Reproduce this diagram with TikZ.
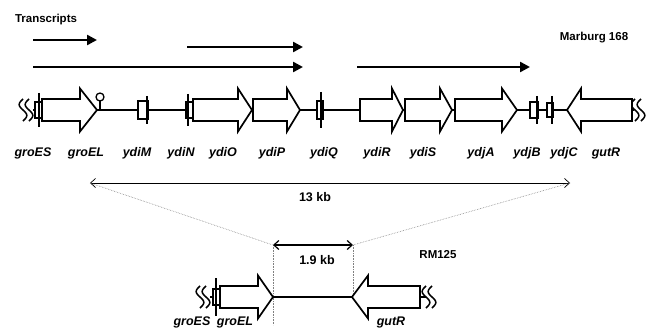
\documentclass[tikz,border=0pt]{standalone}
\usepackage{fontspec}
\setmainfont{Liberation Sans}
\usetikzlibrary{arrows.meta,positioning,calc}

\tikzset{
  gene/.style={line width=1.7pt,fill=white,line join=miter},
  genelabel/.style={font=\fontsize{12.5}{14}\selectfont\bfseries\itshape,inner sep=0pt},
  maplabel/.style={font=\fontsize{11.5}{13}\selectfont\bfseries,inner sep=0pt},
  transcript/.style={line width=2.4pt,-{Triangle[length=10pt,width=10pt]}},
  span/.style={line width=0.7pt,{Straight Barb[length=5pt,width=9pt]}-{Straight Barb[length=5pt,width=9pt]}},
  guide/.style={densely dotted,line width=0.6pt,gray},
}

% 遺伝子の矢印：尾の x, 頭の付け根の x, 先端の x, 中心の y
\newcommand{\gene}[4]{%
  \draw[gene] (#1,#4-11) -- (#2,#4-11) -- (#2,#4-21.5) -- (#3,#4)
    -- (#2,#4+21.5) -- (#2,#4+11) -- (#1,#4+11) -- cycle;}
% 小さい遺伝子：箱の左右 x, 中心 y, 箱の半分の高さ, 縦線の x, 縦線の半分の長さ
\newcommand{\smallgene}[6]{%
  \draw[gene,line width=1.3pt] (#1,#3-#4) rectangle (#2,#3+#4);
  \draw[gene] (#5,#3-#6) -- (#5,#3+#6);}
% 切れ目の記号（S字を2本）
\newcommand{\breakmark}[2]{%
  \foreach \dx in {0,6}
    \draw[line width=1.5pt,domain=-11:11,samples=30,smooth,variable=\t]
      plot ({#1+\dx+3.8*sin(16.4*\t)},{#2+\t});}

\begin{document}
\begin{tikzpicture}[x=1pt,y=-1pt]
  \useasboundingbox (0,0) rectangle (646,329); % 全体の大きさ

  \node[maplabel] (transcripts) at (46,20) {Transcripts};
  \node[maplabel] (marburg) at (594,38) {Marburg 168};

  % 転写産物の矢印
  \foreach \n/\xa/\xb/\y in {ta/33/97/40, tb/187/303/47, tc/33/303/67, td/357/530/67} {
    \coordinate (\n s) at (\xa,\y);
    \coordinate (\n e) at (\xb,\y);
    \draw[transcript] (\n s) -- (\n e);
  }

  % Marburg 168 の遺伝子地図
  \draw[line width=1.7pt] (33,110) -- (634,110); % 中心線
  \breakmark{23}{110}
  \breakmark{635}{110}
  \smallgene{35}{42}{110}{8}{39}{17}   % groES
  \gene{42}{80}{97}{110}               % groEL
  \draw[gene] (100,110) -- (100,101);  % ターミネーター
  \draw[gene,line width=1.3pt] (100,97) circle[radius=4pt];
  \smallgene{138}{148}{110}{9}{147}{14} % ydiM
  \smallgene{186}{193}{110}{8}{188}{16} % ydiN
  \gene{193}{238}{252}{110}            % ydiO
  \gene{253}{287}{300}{110}            % ydiP
  \smallgene{317}{323}{110}{9}{321}{18} % ydiQ
  \gene{360}{392}{403}{110}            % ydiR
  \gene{405}{440}{452}{110}            % ydiS
  \gene{455}{502}{517}{110}            % ydjA
  \smallgene{530}{538}{110}{8}{537}{14} % ydjB
  \smallgene{547}{553}{110}{7}{552}{14} % ydjC
  \gene{632}{581}{567}{110}            % gutR（逆向き）

  \foreach \g/\xc in {groES/33, groEL/86, ydiM/137, ydiN/181, ydiO/223, ydiP/272,
                      ydiQ/324, ydiR/377, ydiS/423, ydjA/481, ydjB/527, ydjC/564, gutR/606}
    \node[genelabel] (lab\g) at (\xc,153) {\g};

  % 13 kb の範囲と 1.9 kb への対応
  \coordinate (kbL) at (90,183);
  \coordinate (kbR) at (570,183);
  \coordinate (shL) at (273,245);
  \coordinate (shR) at (353,245);
  \coordinate (shLb) at (273,325);
  \coordinate (shRb) at (353,300);
  \draw[span] (kbL) -- (kbR);
  \node[font=\fontsize{12.5}{14}\selectfont\bfseries,inner sep=0pt] (kb13) at (315,197) {13 kb};
  \draw[guide] (kbL) -- (shL);
  \draw[guide] (kbR) -- (shR);
  \draw[guide] (shL) -- (shLb);
  \draw[guide] (shR) -- (shRb);
  \draw[span,line width=1.2pt] (shL) -- (shR);
  \node[font=\fontsize{12.5}{14}\selectfont\bfseries,inner sep=0pt] (kb19) at (317,260) {1.9 kb};
  \node[maplabel] (rm125) at (438,255) {RM125};

  % RM125 の遺伝子地図
  \draw[line width=1.7pt] (210,297) -- (426,297);
  \breakmark{200}{297}
  \breakmark{426}{297}
  \smallgene{213}{220}{297}{8}{216}{19} % groES
  \gene{220}{258}{273}{297}            % groEL
  \gene{420}{368}{352}{297}            % gutR
  \node[genelabel] (rmgroES) at (192,322) {groES};
  \node[genelabel] (rmgroEL) at (235,322) {groEL};
  \node[genelabel] (rmgutR) at (391,322) {gutR};
\end{tikzpicture}
\end{document}
